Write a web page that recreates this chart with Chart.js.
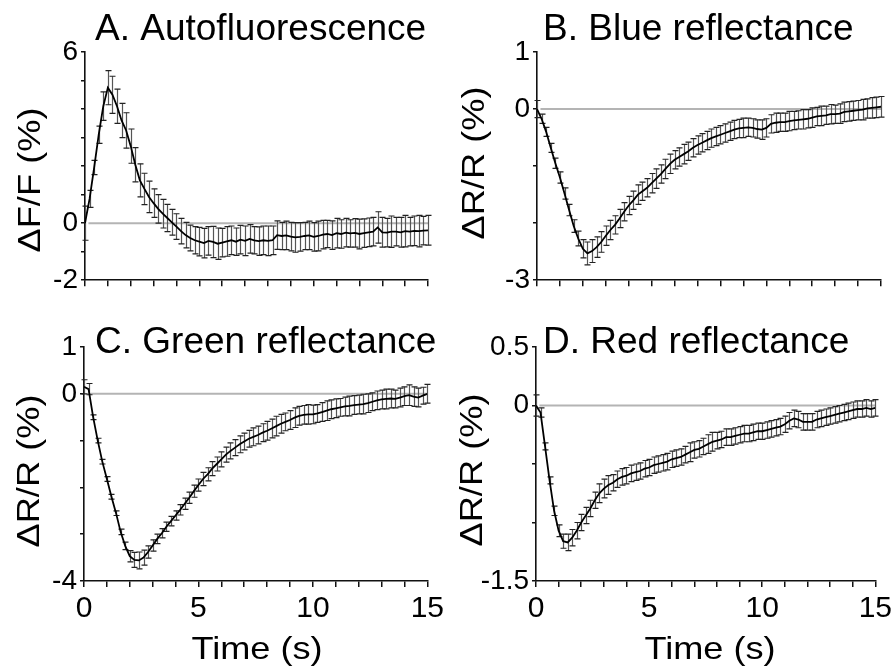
<!DOCTYPE html>
<html>
<head>
<meta charset="utf-8">
<script src="https://cdn.jsdelivr.net/npm/chart.js@4.4.1/dist/chart.umd.min.js"></script>
<style>
  body { margin: 0; background: #fff; width: 896px; height: 669px; position: relative; overflow: hidden; }
  canvas { position: absolute; }
</style>
</head>
<body>
<canvas id="pA" width="448" height="300" style="left:0;top:0"></canvas>
<canvas id="pB" width="448" height="300" style="left:448px;top:0"></canvas>
<canvas id="pC" width="448" height="369" style="left:0;top:300px"></canvas>
<canvas id="pD" width="448" height="369" style="left:448px;top:300px"></canvas>
<script>
// sample times (s)
const times = [
  0, 0.2, 0.4, 0.6, 0.8, 1, 1.2, 1.4, 1.6, 1.8,
  2, 2.2, 2.4, 2.6, 2.8, 3, 3.2, 3.4, 3.6, 3.8,
  4, 4.2, 4.4, 4.6, 4.8, 5, 5.2, 5.4, 5.6, 5.8,
  6, 6.2, 6.4, 6.6, 6.8, 7, 7.2, 7.4, 7.6, 7.8,
  8, 8.2, 8.4, 8.6, 8.8, 9, 9.2, 9.4, 9.6, 9.8,
  10, 10.2, 10.4, 10.6, 10.8, 11, 11.2, 11.4, 11.6, 11.8,
  12, 12.2, 12.4, 12.6, 12.8, 13, 13.2, 13.4, 13.6, 13.8,
  14, 14.2, 14.4, 14.6, 14.8, 15
];

// A. autofluorescence dF/F (%)
const autoMean = [
  0.0, 0.85, 1.95, 3.1, 4.1, 4.75, 4.5, 4.1, 3.6, 3.25,
  2.7, 2.05, 1.5, 1.2, 0.92, 0.7, 0.5, 0.33, 0.18, 0.03,
  -0.12, -0.28, -0.42, -0.52, -0.6, -0.65, -0.7, -0.62, -0.66, -0.72,
  -0.68, -0.64, -0.6, -0.65, -0.58, -0.62, -0.55, -0.6, -0.63, -0.6,
  -0.62, -0.6, -0.42, -0.45, -0.43, -0.47, -0.5, -0.48, -0.45, -0.43,
  -0.48, -0.45, -0.4, -0.38, -0.42, -0.35, -0.38, -0.33, -0.36, -0.34,
  -0.38, -0.35, -0.32, -0.3, -0.15, -0.32, -0.33, -0.3, -0.3, -0.32,
  -0.28, -0.3, -0.27, -0.28, -0.26, -0.25
];
const autoErr = [
  0.6, 0.3, 0.25, 0.3, 0.5, 0.6, 0.65, 0.6, 0.6, 0.62,
  0.6, 0.6, 0.58, 0.55, 0.55, 0.5, 0.5, 0.5, 0.48, 0.45,
  0.45, 0.45, 0.45, 0.45, 0.48, 0.5, 0.52, 0.5, 0.55, 0.55,
  0.5, 0.52, 0.5, 0.48, 0.5, 0.52, 0.5, 0.48, 0.5, 0.5,
  0.52, 0.5, 0.5, 0.48, 0.5, 0.5, 0.52, 0.5, 0.48, 0.5,
  0.5, 0.52, 0.5, 0.48, 0.5, 0.52, 0.5, 0.5, 0.48, 0.5,
  0.52, 0.5, 0.5, 0.5, 0.55, 0.52, 0.5, 0.55, 0.5, 0.52,
  0.55, 0.5, 0.52, 0.55, 0.5, 0.52
];

// B. blue reflectance dR/R (%)
const blueMean = [
  0.0, -0.17, -0.4, -0.68, -0.95, -1.2, -1.48, -1.77, -2.05, -2.27,
  -2.45, -2.53, -2.49, -2.42, -2.33, -2.22, -2.12, -2.03, -1.92, -1.8,
  -1.69, -1.6, -1.5, -1.44, -1.38, -1.3, -1.22, -1.14, -1.05, -0.96,
  -0.89, -0.84, -0.79, -0.74, -0.68, -0.63, -0.59, -0.55, -0.51, -0.48,
  -0.45, -0.42, -0.39, -0.36, -0.34, -0.33, -0.32, -0.33, -0.35, -0.36,
  -0.33, -0.26, -0.24, -0.23, -0.23, -0.21, -0.2, -0.19, -0.18, -0.17,
  -0.15, -0.13, -0.12, -0.11, -0.09, -0.09, -0.08, -0.05, -0.04, -0.03,
  -0.02, -0.01, 0.01, 0.02, 0.03, 0.04
];
const blueErr = [
  0.15, 0.08, 0.08, 0.08, 0.09, 0.1, 0.1, 0.1, 0.11, 0.13,
  0.16, 0.2, 0.2, 0.18, 0.18, 0.17, 0.17, 0.16, 0.16, 0.16,
  0.16, 0.16, 0.17, 0.16, 0.16, 0.17, 0.17, 0.16, 0.17, 0.17,
  0.16, 0.16, 0.17, 0.16, 0.16, 0.16, 0.16, 0.16, 0.16, 0.16,
  0.16, 0.16, 0.16, 0.16, 0.16, 0.17, 0.16, 0.16, 0.16, 0.17,
  0.16, 0.16, 0.17, 0.16, 0.16, 0.17, 0.16, 0.16, 0.17, 0.16,
  0.17, 0.16, 0.17, 0.16, 0.17, 0.16, 0.17, 0.17, 0.17, 0.17,
  0.17, 0.18, 0.17, 0.18, 0.18, 0.18
];

// C. green reflectance dR/R (%)
const greenMean = [
  0.15, 0.1, -0.5, -1.0, -1.45, -1.82, -2.2, -2.55, -2.95, -3.25,
  -3.47, -3.55, -3.56, -3.5, -3.38, -3.24, -3.1, -2.98, -2.84, -2.72,
  -2.6, -2.48, -2.35, -2.22, -2.08, -1.95, -1.82, -1.72, -1.6, -1.5,
  -1.4, -1.3, -1.22, -1.15, -1.08, -1.02, -0.96, -0.92, -0.88, -0.83,
  -0.79, -0.74, -0.69, -0.64, -0.6, -0.56, -0.51, -0.47, -0.45, -0.44,
  -0.44, -0.42, -0.39, -0.36, -0.33, -0.31, -0.29, -0.27, -0.26, -0.24,
  -0.23, -0.22, -0.2, -0.17, -0.14, -0.12, -0.11, -0.1, -0.11, -0.08,
  -0.05, -0.03, -0.06, -0.08, -0.04, 0.0
];
const greenErr = [
  0.15, 0.12, 0.05, 0.05, 0.05, 0.05, 0.05, 0.05, 0.06, 0.08,
  0.12, 0.16, 0.18, 0.16, 0.13, 0.12, 0.1, 0.1, 0.1, 0.1,
  0.1, 0.11, 0.12, 0.12, 0.13, 0.13, 0.14, 0.14, 0.15, 0.15,
  0.16, 0.16, 0.17, 0.17, 0.18, 0.18, 0.18, 0.19, 0.19, 0.19,
  0.2, 0.2, 0.21, 0.2, 0.19, 0.2, 0.21, 0.2, 0.2, 0.21,
  0.2, 0.19, 0.2, 0.21, 0.2, 0.2, 0.19, 0.2, 0.21, 0.2,
  0.2, 0.21, 0.2, 0.19, 0.2, 0.2, 0.21, 0.2, 0.19, 0.2,
  0.2, 0.22, 0.21, 0.2, 0.18, 0.2
];

// D. red reflectance dR/R (%)
const redMean = [
  0.0, -0.06, -0.35, -0.64, -0.9, -1.07, -1.16, -1.17, -1.13, -1.07,
  -1.0, -0.94, -0.88, -0.81, -0.75, -0.71, -0.68, -0.66, -0.63, -0.61,
  -0.6, -0.58, -0.57, -0.56, -0.54, -0.53, -0.51, -0.5, -0.49, -0.48,
  -0.46, -0.45, -0.44, -0.42, -0.4, -0.38, -0.37, -0.35, -0.33, -0.31,
  -0.3, -0.29, -0.27, -0.27, -0.26, -0.25, -0.24, -0.24, -0.23, -0.22,
  -0.22, -0.21, -0.2, -0.19, -0.18, -0.16, -0.13, -0.11, -0.12, -0.14,
  -0.14, -0.14, -0.12, -0.11, -0.1, -0.09, -0.08, -0.07, -0.06, -0.05,
  -0.04, -0.03, -0.03, -0.02, -0.03, -0.02
];
const redErr = [
  0.09, 0.04, 0.03, 0.03, 0.04, 0.05, 0.06, 0.07, 0.07, 0.07,
  0.07, 0.07, 0.07, 0.07, 0.08, 0.08, 0.08, 0.07, 0.07, 0.07,
  0.07, 0.07, 0.07, 0.07, 0.07, 0.07, 0.07, 0.07, 0.07, 0.07,
  0.07, 0.07, 0.07, 0.07, 0.08, 0.07, 0.07, 0.07, 0.08, 0.08,
  0.07, 0.07, 0.07, 0.07, 0.07, 0.07, 0.07, 0.07, 0.07, 0.07,
  0.07, 0.07, 0.07, 0.07, 0.07, 0.07, 0.07, 0.07, 0.07, 0.07,
  0.07, 0.07, 0.07, 0.07, 0.07, 0.07, 0.07, 0.07, 0.07, 0.07,
  0.07, 0.07, 0.07, 0.07, 0.07, 0.07
];

const xTickLabels = [0, 5, 10, 15];
const FONT = "'Liberation Sans', Arial, sans-serif";

// whiskers drawn after the zero line, before the mean trace
const errorBars = {
  id: 'errorBars',
  afterDatasetDraw(chart, args) {
    if (args.index !== 1) return;
    const ds = chart.data.datasets[0];
    const xs = chart.scales.x, ys = chart.scales.y;
    const ctx = chart.ctx;
    ctx.save();
    ctx.lineWidth = 1.2;
    ds.data.forEach((pt, i) => {
      const e = ds.errors[i];
      const px = Math.round(xs.getPixelForValue(pt.x)) + 0.5;
      const top = ys.getPixelForValue(pt.y + e);
      const bot = ys.getPixelForValue(pt.y - e);
      ctx.strokeStyle = '#555';
      ctx.beginPath();
      ctx.moveTo(px, top);
      ctx.lineTo(px, bot);
      ctx.stroke();
      ctx.strokeStyle = '#222';
      ctx.beginPath();
      ctx.moveTo(px - 3, top);
      ctx.lineTo(px + 3, top);
      ctx.moveTo(px - 3, bot);
      ctx.lineTo(px + 3, bot);
      ctx.stroke();
    });
    ctx.restore();
  }
};

function drawText(ctx, t) {
  ctx.save();
  ctx.font = t.size + 'px ' + FONT;
  ctx.fillStyle = '#000';
  ctx.textAlign = t.align || 'left';
  ctx.textBaseline = t.baseline || 'alphabetic';
  ctx.translate(t.x, t.y);
  if (t.rotate) ctx.rotate(-Math.PI / 2);
  ctx.scale(t.stretch || 1, 1);
  ctx.fillText(t.text, 0, 0);
  ctx.restore();
}

function makePanel(id, p) {
  new Chart(document.getElementById(id), {
    type: 'line',
    data: {
      datasets: [
        {
          data: times.map((t, i) => ({ x: t, y: p.values[i] })),
          errors: p.errors,
          borderColor: '#000',
          borderWidth: 1.8,
          pointRadius: 0,
          tension: 0
        },
        {
          data: [{ x: 0.15, y: 0 }, { x: 15, y: 0 }],
          borderColor: '#b4b4b4',
          borderWidth: 2,
          pointRadius: 0
        }
      ]
    },
    options: {
      responsive: false,
      animation: false,
      events: [],
      layout: { autoPadding: false, padding: { left: 0, top: p.top, right: p.right, bottom: 0 } },
      plugins: { legend: { display: false }, tooltip: { enabled: false } },
      scales: {
        x: {
          type: 'linear',
          min: 0,
          max: 15,
          afterFit: s => { s.height = p.xh; },
          border: { color: '#111', width: 1.6 },
          grid: { drawOnChartArea: false, color: '#111', lineWidth: 1.5, tickLength: 6 },
          ticks: {
            stepSize: 1,
            autoSkip: false,
            maxRotation: 0,
            color: '#000',
            padding: 4,
            font: { family: FONT, size: 30 },
            callback: v => (p.showX && xTickLabels.includes(v)) ? String(v) : ''
          }
        },
        y: {
          min: p.ymin,
          max: p.ymax,
          afterFit: s => { s.width = p.yw; },
          border: { color: '#111', width: 1.6 },
          grid: { drawOnChartArea: false, color: '#111', lineWidth: 1.5, tickLength: 4 },
          ticks: {
            stepSize: p.step,
            autoSkip: false,
            color: '#000',
            padding: 3,
            font: { family: FONT, size: 28 },
            callback: v => p.yLabels.includes(v) ? String(v) : ''
          }
        }
      }
    },
    plugins: [errorBars, { id: 'panelText', afterDraw(chart) { p.texts.forEach(t => drawText(chart.ctx, t)); } }]
  });
}

makePanel('pA', {
  values: autoMean, errors: autoErr, ymin: -2, ymax: 6, step: 1, yLabels: [6, 0, -2],
  top: 52, right: 20, yw: 85, xh: 14, showX: false,
  texts: [
    { text: 'A. Autofluorescence', x: 95, y: 40, size: 37 },
    { text: 'ΔF/F (%)', x: 31, y: 180, size: 31, rotate: true, stretch: 1.17, align: 'center', baseline: 'middle' }
  ]
});
makePanel('pB', {
  values: blueMean, errors: blueErr, ymin: -3, ymax: 1, step: 1, yLabels: [1, 0, -3],
  top: 52, right: 15, yw: 89, xh: 14, showX: false,
  texts: [
    { text: 'B. Blue reflectance', x: 95, y: 40, size: 37 },
    { text: 'ΔR/R (%)', x: 27, y: 163, size: 31, rotate: true, stretch: 1.17, align: 'center', baseline: 'middle' }
  ]
});
makePanel('pC', {
  values: greenMean, errors: greenErr, ymin: -4, ymax: 1, step: 1, yLabels: [1, 0, -4],
  top: 47, right: 20, yw: 84, xh: 88, showX: true,
  texts: [
    { text: 'C. Green reflectance', x: 95, y: 53, size: 37 },
    { text: 'ΔR/R (%)', x: 30, y: 171, size: 31, rotate: true, stretch: 1.17, align: 'center', baseline: 'middle' },
    { text: 'Time (s)', x: 257, y: 359, size: 32, stretch: 1.13, align: 'center' }
  ]
});
makePanel('pD', {
  values: redMean, errors: redErr, ymin: -1.5, ymax: 0.5, step: 0.5, yLabels: [0.5, 0, -1.5],
  top: 47, right: 15, yw: 88, xh: 88, showX: true,
  texts: [
    { text: 'D. Red reflectance', x: 95, y: 53, size: 37 },
    { text: 'ΔR/R (%)', x: 25, y: 170, size: 31, rotate: true, stretch: 1.17, align: 'center', baseline: 'middle' },
    { text: 'Time (s)', x: 262, y: 359, size: 32, stretch: 1.13, align: 'center' }
  ]
});
</script>
</body>
</html>
